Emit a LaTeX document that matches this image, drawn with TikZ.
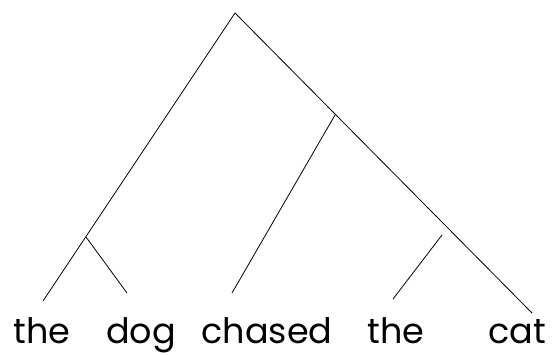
\documentclass[tikz,border=0pt]{standalone}
\usepackage{fontspec}
\setmainfont{Poppins}
\usetikzlibrary{positioning}

\begin{document}
\begin{tikzpicture}[x=1pt,y=-1pt,
    branch/.style={line width=0.8pt,black},
    word/.style={anchor=base,font=\fontsize{35}{35}\selectfont,inner sep=0pt}]
  \useasboundingbox (0,0) rectangle (556,354);

  % tree points
  \coordinate (root) at (235,13);
  \coordinate (np1) at (86,237);
  \coordinate (vp) at (335,115);
  \coordinate (np2top) at (442,235);
  \coordinate (the1end) at (43,301);
  \coordinate (dogend) at (127,293);
  \coordinate (chasedend) at (232,293);
  \coordinate (the2end) at (393,299);
  \coordinate (catend) at (532,313);

  % words
  \node[word] (the1) at (42,343) {the};
  \node[word] (dog) at (141,343) {dog};
  \node[word] (chased) at (267,343) {chased};
  \node[word] (the2) at (396,343) {the};
  \node[word] (cat) at (517,343) {cat};

  % branches
  \draw[branch] (the1end) -- (root) -- (catend);
  \draw[branch] (np1) -- (dogend);
  \draw[branch] (vp) -- (chasedend);
  \draw[branch] (np2top) -- (the2end);
\end{tikzpicture}
\end{document}
